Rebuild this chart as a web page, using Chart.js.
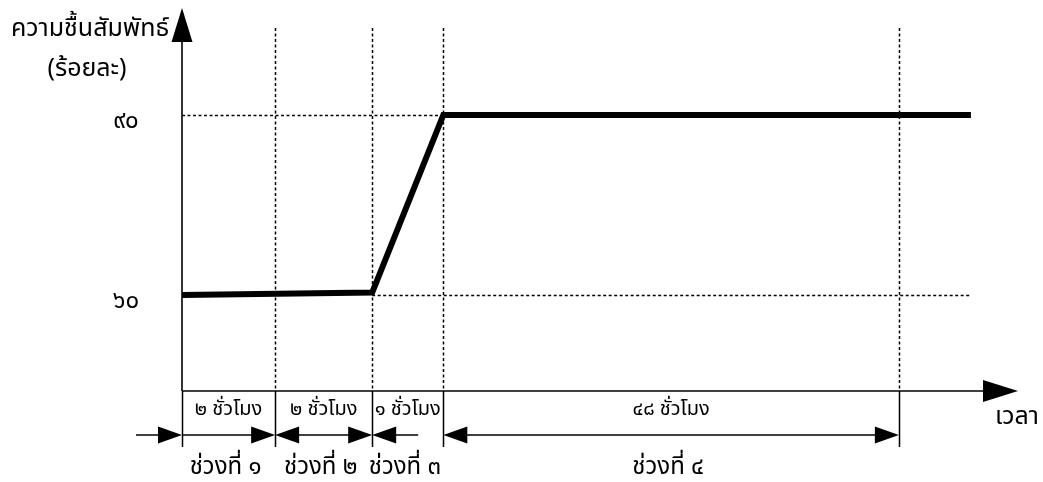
<!DOCTYPE html>
<html>
<head>
<meta charset="utf-8">
<script src="https://cdn.jsdelivr.net/npm/chart.js@4.4.1/dist/chart.umd.min.js"></script>
<style>
html,body{margin:0;padding:0;background:#fff;}
canvas{display:block;}
</style>
</head>
<body>
<canvas id="c" width="1043" height="482"></canvas>
<script>
// ---- data (schematic time units on x, relative humidity % on y) ----
const timeX = [0, 22.75, 31.26, 94.37];
const humidity = [60, 60.4, 90, 90];
const phaseBounds = [0, 11.14, 22.75, 31.26, 85.75];
const yTickValues = [60, 90];
const yTickLabels = ['๖๐', '๙๐'];
const phaseDurations = ['๒ ชั่วโมง', '๒ ชั่วโมง', '๑ ชั่วโมง', '๔๘ ชั่วโมง'];
const phaseNames = ['ช่วงที่ ๑', 'ช่วงที่ ๒', 'ช่วงที่ ๓', 'ช่วงที่ ๔'];
const yTitle = ['ความชื้นสัมพัทธ์', '(ร้อยละ)'];
const xTitle = 'เวลา';

const FONT = '"Noto Sans Thai", "Noto Sans", "DejaVu Sans", sans-serif';

function tri(ctx, tipX, tipY, dir, len, half) {
  ctx.beginPath();
  if (dir === 'r') { ctx.moveTo(tipX, tipY); ctx.lineTo(tipX - len, tipY - half); ctx.lineTo(tipX - len, tipY + half); }
  else if (dir === 'l') { ctx.moveTo(tipX, tipY); ctx.lineTo(tipX + len, tipY - half); ctx.lineTo(tipX + len, tipY + half); }
  else if (dir === 'u') { ctx.moveTo(tipX, tipY); ctx.lineTo(tipX - half, tipY + len); ctx.lineTo(tipX + half, tipY + len); }
  ctx.closePath();
  ctx.fill();
}
function line(ctx, x1, y1, x2, y2) {
  ctx.beginPath(); ctx.moveTo(x1, y1); ctx.lineTo(x2, y2); ctx.stroke();
}

const diagram = {
  id: 'diagram',
  beforeDatasetsDraw(chart) {
    const ctx = chart.ctx, a = chart.chartArea;
    const xs = chart.scales.x, ys = chart.scales.y;
    ctx.save();
    ctx.strokeStyle = '#000';
    ctx.lineWidth = 1.5;
    ctx.setLineDash([3, 2.5]);
    // vertical dotted guides
    for (let i = 1; i < phaseBounds.length; i++) {
      const px = Math.round(xs.getPixelForValue(phaseBounds[i])) + 0.5;
      line(ctx, px, 28, px, a.bottom);
    }
    // horizontal dotted guides
    const y90 = ys.getPixelForValue(90), y60 = ys.getPixelForValue(60);
    line(ctx, a.left, Math.round(y90) + 0.5, xs.getPixelForValue(timeX[2]), Math.round(y90) + 0.5);
    line(ctx, xs.getPixelForValue(timeX[1]), Math.round(y60) + 0.5, xs.getPixelForValue(timeX[3]), Math.round(y60) + 0.5);
    ctx.restore();
  },
  afterDatasetsDraw(chart) {
    const ctx = chart.ctx, a = chart.chartArea;
    const xs = chart.scales.x, ys = chart.scales.y;
    ctx.save();
    ctx.strokeStyle = '#000';
    ctx.fillStyle = '#000';
    ctx.lineWidth = 1.6;
    // axes
    line(ctx, a.left, a.bottom, a.left, a.top + 30);
    tri(ctx, a.left, a.top, 'u', 34, 10.5);
    line(ctx, a.left, a.bottom, a.right - 30, a.bottom);
    tri(ctx, a.right, a.bottom, 'r', 35, 11);

    // y tick labels
    ctx.font = '24px ' + FONT;
    ctx.textAlign = 'center';
    ctx.textBaseline = 'middle';
    yTickValues.forEach((v, i) => {
      ctx.fillText(yTickLabels[i], 126, ys.getPixelForValue(v) + 8);
    });
    // y title
    ctx.font = '25px ' + FONT;
    ctx.fillText(yTitle[0], 90, 31);
    ctx.fillText(yTitle[1], 87, 71);

    // below axis: solid ticks
    const bx = phaseBounds.map(v => xs.getPixelForValue(v));
    const tickBottom = 447, arrowY = 435;
    ctx.lineWidth = 1.5;
    bx.forEach(px => line(ctx, Math.round(px) + 0.5, a.bottom, Math.round(px) + 0.5, tickBottom));

    // duration arrows
    const L = 24, H = 8.5;
    ctx.lineWidth = 1.5;
    line(ctx, 136, arrowY, bx[0] - 10, arrowY); tri(ctx, bx[0], arrowY, 'r', L, H);
    line(ctx, bx[0], arrowY, bx[1] - 10, arrowY); tri(ctx, bx[1], arrowY, 'r', L, H);
    tri(ctx, bx[1], arrowY, 'l', L, H); line(ctx, bx[1] + 10, arrowY, bx[2] - 10, arrowY); tri(ctx, bx[2], arrowY, 'r', L, H);
    tri(ctx, bx[2], arrowY, 'l', L, H); line(ctx, bx[2] + 10, arrowY, bx[2] + 46, arrowY);
    tri(ctx, bx[3], arrowY, 'l', L, H); line(ctx, bx[3] + 10, arrowY, bx[4] - 10, arrowY); tri(ctx, bx[4], arrowY, 'r', L, H);

    // texts
    for (let i = 0; i < 4; i++) {
      const cx = (bx[i] + bx[i + 1]) / 2;
      ctx.font = '20px ' + FONT;
      ctx.fillText(phaseDurations[i], cx, 411);
      ctx.font = '24px ' + FONT;
      ctx.fillText(phaseNames[i], cx - 3, 469);
    }
    ctx.font = '25px ' + FONT;
    ctx.fillText(xTitle, 1017, 419);
    ctx.restore();
  }
};

new Chart(document.getElementById('c'), {
  type: 'line',
  data: {
    datasets: [{
      data: timeX.map((x, i) => ({ x: x, y: humidity[i] })),
      borderColor: '#000',
      borderWidth: 6,
      pointRadius: 0,
      tension: 0,
      fill: false,
      borderJoinStyle: 'miter',
      borderCapStyle: 'butt'
    }]
  },
  options: {
    responsive: false,
    animation: false,
    layout: { padding: { left: 182, right: 25, top: 8, bottom: 91 } },
    plugins: { legend: { display: false }, tooltip: { enabled: false } },
    scales: {
      x: { type: 'linear', min: 0, max: 100, display: false },
      y: { type: 'linear', min: 44, max: 107.83, display: false }
    }
  },
  plugins: [diagram]
});
</script>
</body>
</html>
